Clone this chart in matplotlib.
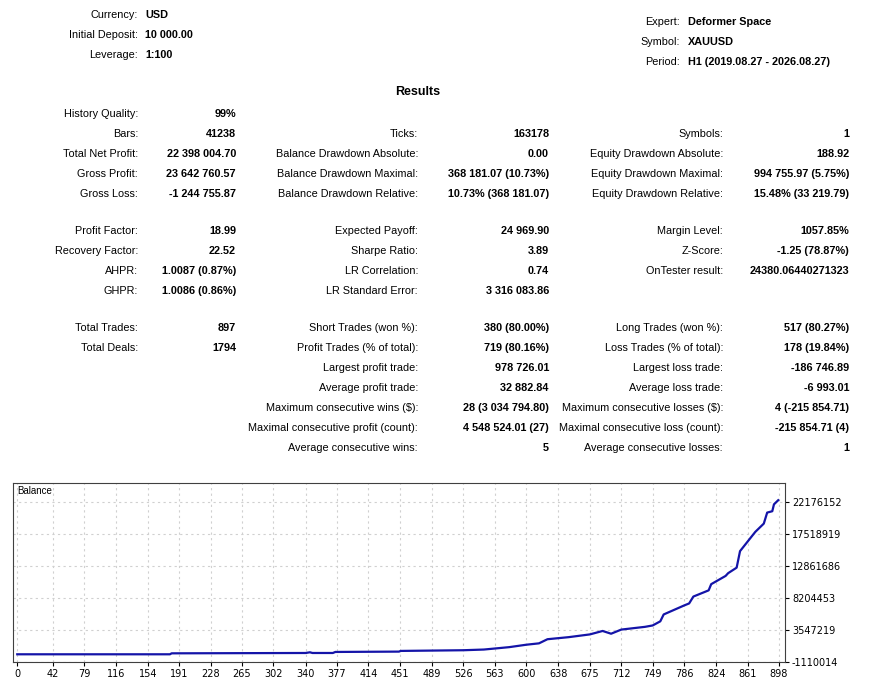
import matplotlib
matplotlib.use('Agg')  # non-interactive backend
import matplotlib.pyplot as plt

W, H = 871, 686

header_left = [('Currency:', 'USD'), ('Initial Deposit:', '10 000.00'), ('Leverage:', '1:100')]
header_right = [('Expert:', 'Deformer Space'), ('Symbol:', 'XAUUSD'), ('Period:', 'H1 (2019.08.27 - 2026.08.27)')]

col1 = [('History Quality:', '99%'), ('Bars:', '41238'), ('Total Net Profit:', '22 398 004.70'),
        ('Gross Profit:', '23 642 760.57'), ('Gross Loss:', '-1 244 755.87'), None,
        ('Profit Factor:', '18.99'), ('Recovery Factor:', '22.52'), ('AHPR:', '1.0087 (0.87%)'),
        ('GHPR:', '1.0086 (0.86%)'), None, ('Total Trades:', '897'), ('Total Deals:', '1794')]
col2 = [None, ('Ticks:', '163178'), ('Balance Drawdown Absolute:', '0.00'),
        ('Balance Drawdown Maximal:', '368 181.07 (10.73%)'), ('Balance Drawdown Relative:', '10.73% (368 181.07)'), None,
        ('Expected Payoff:', '24 969.90'), ('Sharpe Ratio:', '3.89'), ('LR Correlation:', '0.74'),
        ('LR Standard Error:', '3 316 083.86'), None,
        ('Short Trades (won %):', '380 (80.00%)'), ('Profit Trades (% of total):', '719 (80.16%)'),
        ('Largest profit trade:', '978 726.01'), ('Average profit trade:', '32 882.84'),
        ('Maximum consecutive wins ($):', '28 (3 034 794.80)'), ('Maximal consecutive profit (count):', '4 548 524.01 (27)'),
        ('Average consecutive wins:', '5')]
col3 = [None, ('Symbols:', '1'), ('Equity Drawdown Absolute:', '188.92'),
        ('Equity Drawdown Maximal:', '994 755.97 (5.75%)'), ('Equity Drawdown Relative:', '15.48% (33 219.79)'), None,
        ('Margin Level:', '1057.85%'), ('Z-Score:', '-1.25 (78.87%)'), ('OnTester result:', '24380.06440271323'),
        None, None,
        ('Long Trades (won %):', '517 (80.27%)'), ('Loss Trades (% of total):', '178 (19.84%)'),
        ('Largest loss trade:', '-186 746.89'), ('Average loss trade:', '-6 993.01'),
        ('Maximum consecutive losses ($):', '4 (-215 854.71)'), ('Maximal consecutive loss (count):', '-215 854.71 (4)'),
        ('Average consecutive losses:', '1')]
row_y = [114, 134, 154, 174, 194, None, 231, 251, 271, 291, None, 328, 348, 368, 388, 408, 428, 448]

# balance curve (trade number, balance in millions)
trade_no = [0, 180, 182, 340, 345, 348, 372, 375, 450, 452, 489, 526, 550, 563, 580, 600, 615, 625,
            650, 675, 690, 700, 712, 740, 749, 758, 762, 786, 792, 797, 815, 818, 835, 838, 848, 852,
            870, 880, 884, 890, 892, 897]
balance = [0.01, 0.01, 0.15, 0.2, 0.3, 0.2, 0.2, 0.35, 0.4, 0.5, 0.55, 0.6, 0.7, 0.85, 1.05, 1.4,
           1.6, 2.2, 2.5, 2.9, 3.4, 3.0, 3.6, 4.0, 4.2, 4.8, 5.8, 7.1, 7.4, 8.4, 9.3, 10.2, 11.4, 11.8,
           12.6, 15.0, 17.8, 19.0, 20.6, 20.8, 21.8, 22.4]
xticks = [0, 42, 79, 116, 154, 191, 228, 265, 302, 340, 377, 414, 451, 489, 526, 563, 600, 638,
          675, 712, 749, 786, 824, 861, 898]
yticks = [-1110014, 3547219, 8204453, 12861686, 17518919, 22176152]

fig = plt.figure(figsize=(W / 100, H / 100), dpi=100)
fs = 7.8


def put(x, y, s, ha='right', bold=False, size=fs):
    fig.text(x / W, 1 - y / H, s, ha=ha, va='center', fontsize=size,
             fontweight='bold' if bold else 'normal', family='Liberation Sans')


for i, (lab, val) in enumerate(header_left):
    put(138, 15 + 20 * i, lab)
    put(145, 15 + 20 * i, val, ha='left', bold=True)
for i, (lab, val) in enumerate(header_right):
    put(680, 22 + 20 * i, lab)
    put(688, 22 + 20 * i, val, ha='left', bold=True)
put(418, 92, 'Results', ha='center', bold=True, size=9)

for col, lx, vx in [(col1, 138, 236), (col2, 418, 549), (col3, 723, 849)]:
    for item, y in zip(col, row_y):
        if item is None or y is None:
            continue
        put(lx, y, item[0])
        put(vx, y, item[1], bold=True)

ax = fig.add_axes([13 / W, 1 - 662 / H, (785 - 13) / W, (662 - 483) / H])
ax.plot(trade_no, [b * 1e6 for b in balance], color='#1414a8', linewidth=1.6)
ax.set_xlim(-5, 905)
ax.set_ylim(-1110014, 24900000)
ax.set_xticks(xticks)
ax.set_xticklabels([str(t) for t in xticks])
ax.set_yticks(yticks)
ax.set_yticklabels([str(t) for t in yticks])
ax.yaxis.tick_right()
ax.tick_params(labelsize=7, length=3, pad=2)
ax.grid(True, linestyle=(0, (2, 3)), color='#d0d0d0', linewidth=0.8)
ax.text(0.005, 0.985, 'Balance', transform=ax.transAxes, ha='left', va='top', fontsize=7,
        family='Liberation Sans')
for sp in ax.spines.values():
    sp.set_color('#404040')

fig.savefig('out.png', dpi=100)
plt.close(fig)
